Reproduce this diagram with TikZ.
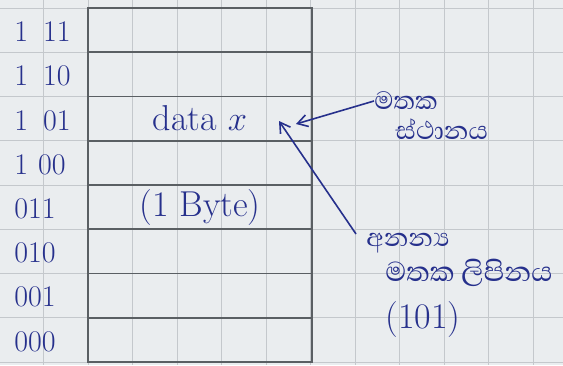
\documentclass[tikz,border=0pt]{standalone}
\usepackage{fontspec}
\newfontfamily\sinhala[Script=Sinhala]{Abhaya Libre}
\usetikzlibrary{arrows.meta}
\definecolor{paper}{RGB}{234,237,239}
\definecolor{gridc}{RGB}{196,200,204}
\definecolor{tablec}{RGB}{90,95,99}
\definecolor{ink}{RGB}{38,48,140}
\tikzset{
  cell/.style={draw=tablec, line width=0.8pt, minimum width=112pt, minimum height=22.125pt, inner sep=0pt, text=ink, font=\fontsize{18}{20}\selectfont},
  addr/.style={anchor=west, text=ink, font=\fontsize{15}{17}\selectfont, inner sep=0pt},
  note/.style={text=ink, font=\sinhala\fontsize{16}{18}\selectfont, inner sep=0pt, anchor=west},
  pointer/.style={draw=ink, line width=0.8pt, -{Straight Barb[length=5pt,width=6pt]}}
}
\begin{document}
\begin{tikzpicture}[x=0.5pt,y=-0.5pt]
\useasboundingbox (0,0) rectangle (563,365);
\fill[paper] (0,0) rectangle (563,365);
% grid paper
\foreach \i in {0,...,12} { \draw[gridc, line width=0.5pt] (-1+44.5*\i,0) -- (-1+44.5*\i,365); }
\foreach \j in {0,...,8} { \draw[gridc, line width=0.5pt] (0,8+44.25*\j) -- (563,8+44.25*\j); }
% memory cells
\node[cell] (r7) at (200,30.1) {};
\node[cell] (r6) at (200,74.4) {};
\node[cell] (r5) at (200,118.6) {data $x$};
\node[cell] (r4) at (200,162.9) {};
\node[cell] (r3) at (200,207.1) {(1 Byte)};
\node[cell] (r2) at (200,251.4) {};
\node[cell] (r1) at (200,295.6) {};
\node[cell] (r0) at (200,339.9) {};
% addresses
\node[addr] (a7) at (14,32) {1\,\,\,11};
\node[addr] (a6) at (14,76) {1\,\,\,10};
\node[addr] (a5) at (14,121) {1\,\,\,01};
\node[addr] (a4) at (14,165) {1\,\,00};
\node[addr] (a3) at (14,209) {011};
\node[addr] (a2) at (14,253) {010};
\node[addr] (a1) at (14,297) {001};
\node[addr] (a0) at (14,342) {000};
% notes
\node[note] (loc1) at (374,101) {මතක};
\node[note] (loc2) at (395,129) {ස්ථානය};
\node[note] (adr1) at (366,243) {අනන්‍ය};
\node[note, font=\sinhala\fontsize{17.5}{19}\selectfont] (adr2) at (385,273) {මතක ලිපිනය};
\node[note, font=\fontsize{18}{20}\selectfont] (adr3) at (385,320) {(101)};
% pointers
\coordinate (t1) at (296,124);
\coordinate (t2) at (279,121);
\draw[pointer] (loc1.west) -- (t1);
\draw[pointer] (356,234) -- (t2);
\end{tikzpicture}
\end{document}
